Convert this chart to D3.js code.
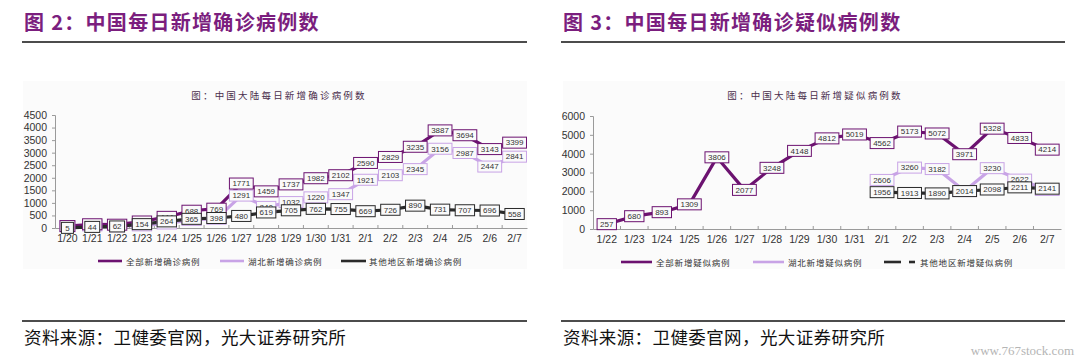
<!DOCTYPE html>
<html>
<head>
<meta charset="utf-8">
<script src="https://cdn.jsdelivr.net/npm/d3@7/dist/d3.min.js"></script>
<style>
  html, body { margin: 0; padding: 0; background: #ffffff; }
  svg { display: block; }
</style>
</head>
<body>
<div id="chart"></div>
<script>
// ---------- DATA ----------
const datesConfirmed = ["1/20","1/21","1/22","1/23","1/24","1/25","1/26","1/27","1/28","1/29","1/30","1/31","2/1","2/2","2/3","2/4","2/5","2/6","2/7"];
const confirmedTotal = [77, 149, 131, 259, 444, 688, 769, 1771, 1459, 1737, 1982, 2102, 2590, 2829, 3235, 3887, 3694, 3143, 3399];
const confirmedHubei = [72, 105, 69, 105, 180, 323, 371, 1291, 840, 1032, 1220, 1347, 1921, 2103, 2345, 3156, 2987, 2447, 2841];
const confirmedOther = [5, 44, 62, 154, 264, 365, 398, 480, 619, 705, 762, 755, 669, 726, 890, 731, 707, 696, 558];
const confirmedTicks = [0, 500, 1000, 1500, 2000, 2500, 3000, 3500, 4000, 4500];

const datesSuspected = ["1/22","1/23","1/24","1/25","1/26","1/27","1/28","1/29","1/30","1/31","2/1","2/2","2/3","2/4","2/5","2/6","2/7"];
const suspectedTotal = [257, 680, 893, 1309, 3806, 2077, 3248, 4148, 4812, 5019, 4562, 5173, 5072, 3971, 5328, 4833, 4214];
const suspectedHubei = [null, null, null, null, null, null, null, null, null, null, 2606, 3260, 3182, 2014, 3230, 2622, 2073];
const suspectedOther = [null, null, null, null, null, null, null, null, null, null, 1956, 1913, 1890, 2014, 2098, 2211, 2141];
const suspectedTicks = [0, 1000, 2000, 3000, 4000, 5000, 6000];

const seriesNamesConfirmed = ["全部新增确诊病例", "湖北新增确诊病例", "其他地区新增确诊病例"];
const seriesNamesSuspected = ["全部新增疑似病例", "湖北新增疑似病例", "其他地区新增疑似病例"];

// ---------- STYLE ----------
const COL_TOTAL = "#6c1270";
const COL_HUBEI = "#c8a3e6";
const COL_OTHER = "#2a2a2a";
const TITLE_COL = "#7b1e7e";
const CJK = "'Noto Sans CJK SC', 'Noto Sans', sans-serif";
const LATIN = "Arial, 'Liberation Sans', sans-serif";

const svg = d3.select("#chart").append("svg")
  .attr("width", 1082).attr("height", 358);

function drawPanel(cfg) {
  const g = svg.append("g");

  // heading
  g.append("text")
    .attr("x", cfg.titleX).attr("y", 21)
    .attr("dominant-baseline", "central")
    .attr("font-family", CJK).attr("font-weight", "bold")
    .attr("font-size", 20).attr("letter-spacing", 1.3)
    .attr("fill", TITLE_COL)
    .text(cfg.title);

  g.append("line")
    .attr("x1", cfg.ruleX0).attr("x2", cfg.ruleX1)
    .attr("y1", 42).attr("y2", 42)
    .attr("stroke", "#111").attr("stroke-width", 1.3);

  // inner picture background
  g.append("rect")
    .attr("x", cfg.bgX0).attr("y", 81)
    .attr("width", cfg.bgX1 - cfg.bgX0).attr("height", 188)
    .attr("fill", "#fbfbfb");

  g.append("text")
    .attr("x", cfg.chartTitleX).attr("y", 95)
    .attr("text-anchor", "middle").attr("dominant-baseline", "central")
    .attr("font-family", CJK).attr("font-size", 9.5)
    .attr("letter-spacing", 2.2)
    .attr("fill", "#4a2e4c")
    .text(cfg.chartTitle);

  // scales
  const x = d3.scaleBand().domain(cfg.dates).range(cfg.xRange).padding(0);
  const y = d3.scaleLinear().domain([0, cfg.yMax]).range([cfg.yBottom, cfg.yTop]);
  const cx = d => x(d) + x.bandwidth() / 2;

  // y axis
  const yAxis = d3.axisLeft(y).tickValues(cfg.ticks).tickFormat(d3.format("d"))
    .tickSize(3).tickPadding(5);
  const ya = g.append("g").attr("transform", `translate(${cfg.xRange[0]},0)`).call(yAxis);
  ya.select(".domain").attr("stroke", "#9a9a9a");
  ya.selectAll(".tick line").attr("stroke", "#9a9a9a");
  ya.selectAll(".tick text").attr("font-family", LATIN).attr("font-size", 10.5).attr("fill", "#333");

  // x axis
  const xAxis = d3.axisBottom(x).tickSize(0).tickPadding(7);
  const xa = g.append("g").attr("transform", `translate(0,${cfg.yBottom})`).call(xAxis);
  xa.select(".domain").attr("stroke", "#9a9a9a");
  xa.selectAll(".tick text").attr("font-family", LATIN).attr("font-size", 10.5).attr("fill", "#333");
  // boundary tick marks
  g.append("g").selectAll("line").data(cfg.dates.slice(1)).join("line")
    .attr("x1", d => x(d)).attr("x2", d => x(d))
    .attr("y1", cfg.yBottom).attr("y2", cfg.yBottom - 3)
    .attr("stroke", "#9a9a9a");

  const series = [
    { key: "hubei", values: cfg.hubei, color: COL_HUBEI },
    { key: "total", values: cfg.total, color: COL_TOTAL },
    { key: "other", values: cfg.other, color: COL_OTHER }
  ];

  const line = d3.line()
    .defined(d => d.v != null)
    .x(d => cx(d.date)).y(d => y(d.v));

  series.forEach(s => {
    const pts = cfg.dates.map((d, i) => ({ date: d, v: s.values[i] }));
    g.append("path").datum(pts)
      .attr("d", line).attr("fill", "none")
      .attr("stroke", s.color).attr("stroke-width", 3.2)
      .attr("stroke-linejoin", "round");
  });

  // data labels (boxes centred on points)
  series.forEach(s => {
    const pts = cfg.dates.map((d, i) => ({ date: d, v: s.values[i] })).filter(p => p.v != null);
    const lg = g.append("g").selectAll("g").data(pts).join("g")
      .attr("transform", p => `translate(${cx(p.date)},${y(p.v)})`);
    lg.append("rect")
      .attr("x", p => -Math.max(12, String(p.v).length * 4.45 + 6) / 2)
      .attr("y", -5.5)
      .attr("width", p => Math.max(12, String(p.v).length * 4.45 + 6))
      .attr("height", 11)
      .attr("fill", "#fafafa")
      .attr("stroke", s.color).attr("stroke-width", 1);
    lg.append("text")
      .attr("text-anchor", "middle").attr("dominant-baseline", "central")
      .attr("y", 0.3)
      .attr("font-family", LATIN).attr("font-size", 8)
      .attr("fill", "#333")
      .text(p => p.v);
  });

  // legend
  const legendColors = [COL_TOTAL, COL_HUBEI, COL_OTHER];
  cfg.legend.forEach((item, i) => {
    g.append("line")
      .attr("x1", item.x0).attr("x2", item.x1)
      .attr("y1", cfg.legendY).attr("y2", cfg.legendY)
      .attr("stroke", legendColors[i]).attr("stroke-width", 2.6);
    if (item.dash) {
      g.append("line")
        .attr("x1", item.dash[0]).attr("x2", item.dash[1])
        .attr("y1", cfg.legendY).attr("y2", cfg.legendY)
        .attr("stroke", legendColors[i]).attr("stroke-width", 2.6);
    }
    g.append("text")
      .attr("x", item.tx).attr("y", cfg.legendY)
      .attr("dominant-baseline", "central")
      .attr("font-family", CJK).attr("font-size", 8.5)
      .attr("letter-spacing", 0.8)
      .attr("fill", "#333")
      .text(cfg.names[i]);
  });

  // source
  g.append("line")
    .attr("x1", cfg.ruleX0).attr("x2", cfg.ruleX1)
    .attr("y1", 321).attr("y2", 321)
    .attr("stroke", "#111").attr("stroke-width", 1.3);
  g.append("text")
    .attr("x", cfg.titleX).attr("y", 336)
    .attr("dominant-baseline", "central")
    .attr("font-family", CJK).attr("font-size", 17.5)
    .attr("letter-spacing", 0.4)
    .attr("fill", "#111")
    .text("资料来源：卫健委官网，光大证券研究所");
}

drawPanel({
  title: "图 2：中国每日新增确诊病例数",
  titleX: 24, ruleX0: 22, ruleX1: 527, bgX0: 23, bgX1: 527,
  chartTitle: "图：中国大陆每日新增确诊病例数", chartTitleX: 279,
  dates: datesConfirmed, total: confirmedTotal, hubei: confirmedHubei, other: confirmedOther,
  ticks: confirmedTicks, yMax: 4500, yTop: 115, yBottom: 228, xRange: [55, 527],
  names: seriesNamesConfirmed, legendY: 261,
  legend: [ {x0: 98, x1: 122, tx: 126}, {x0: 220, x1: 244, tx: 248}, {x0: 341, x1: 366, tx: 369} ]
});

drawPanel({
  title: "图 3：中国每日新增确诊疑似病例数",
  titleX: 563, ruleX0: 561, ruleX1: 1065, bgX0: 563, bgX1: 1065,
  chartTitle: "图：中国大陆每日新增疑似病例数", chartTitleX: 815,
  dates: datesSuspected, total: suspectedTotal, hubei: suspectedHubei, other: suspectedOther,
  ticks: suspectedTicks, yMax: 6000, yTop: 116, yBottom: 229, xRange: [593, 1061],
  names: seriesNamesSuspected, legendY: 262,
  legend: [ {x0: 621, x1: 652, tx: 656}, {x0: 753, x1: 784, tx: 788}, {x0: 884, x1: 901, tx: 920, dash: [909, 915]} ]
});

svg.append("text")
  .attr("x", 1074).attr("y", 350)
  .attr("text-anchor", "end").attr("dominant-baseline", "central")
  .attr("font-family", "'Liberation Serif', 'DejaVu Serif', serif")
  .attr("font-size", 13).attr("fill", "#b5b5b5")
  .text("www.767stock.com");
</script>
</body>
</html>
